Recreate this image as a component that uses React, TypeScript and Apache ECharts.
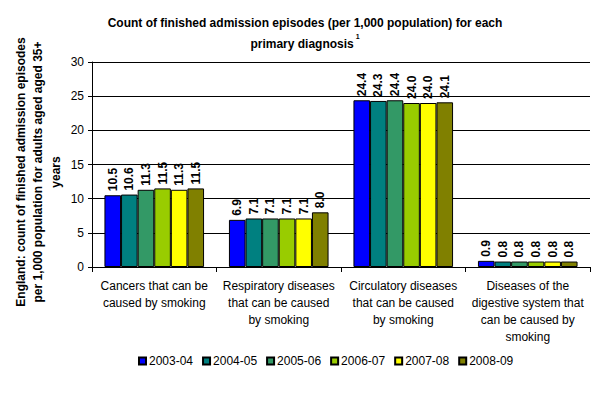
import React, { useEffect, useRef } from "react";
import * as echarts from "echarts";

const categories = [
  "Cancers that can be\ncaused by smoking",
  "Respiratory diseases\nthat can be caused\nby smoking",
  "Circulatory diseases\nthat can be caused\nby smoking",
  "Diseases of the\ndigestive system that\ncan be caused by\nsmoking",
];
const seriesNames = ["2003-04", "2004-05", "2005-06", "2006-07", "2007-08", "2008-09"];
const v2003 = [10.5, 6.9, 24.4, 0.9];
const v2004 = [10.6, 7.1, 24.3, 0.8];
const v2005 = [11.3, 7.1, 24.4, 0.8];
const v2006 = [11.5, 7.1, 24.0, 0.8];
const v2007 = [11.3, 7.1, 24.0, 0.8];
const v2008 = [11.5, 8.0, 24.1, 0.8];
const values = [v2003, v2004, v2005, v2006, v2007, v2008];
const colors = ["#0000FF", "#008080", "#339966", "#99CC00", "#FFFF00", "#808000"];
const yTicks = [0, 5, 10, 15, 20, 25, 30];
const yTitle = "England: count of finished admission episodes\nper 1,000 population for adults aged aged 35+\nyears";

export default function App() {
  const ref = useRef<HTMLDivElement>(null);
  useEffect(() => {
    if (!ref.current) return;
    const chart = echarts.init(ref.current, null, { renderer: "svg" });
    const font = "Liberation Sans, Arial, sans-serif";
    chart.setOption({
      animation: false,
      textStyle: { fontFamily: font },
      title: {
        text: "Count of finished admission episodes (per 1,000 population) for each\n{n|primary diagnosis}{s| 1}",
        left: 300,
        textAlign: "center",
        top: 7,
        textStyle: {
          fontSize: 12,
          fontWeight: "bold",
          color: "#000",
          lineHeight: 21,
          fontFamily: font,
          rich: {
            n: { fontSize: 12, fontWeight: "bold", fontFamily: font, lineHeight: 21 },
            s: { fontSize: 7, fontWeight: "bold", verticalAlign: "top", fontFamily: font, lineHeight: 14, padding: [0, 0, 6, 0] },
          },
        },
      },
      graphic: [
        {
          type: "text",
          x: 38,
          y: 172,
          rotation: Math.PI / 2,
          style: {
            text: yTitle,
            font: `bold 12px ${font}`,
            fill: "#000",
            align: "center",
            verticalAlign: "middle",
            lineHeight: 17.5,
          },
        },
      ],
      legend: {
        top: 350,
        left: 133,
        itemWidth: 7,
        itemHeight: 7,
        itemGap: 9,
        icon: "rect",
        textStyle: { fontSize: 12, color: "#000", fontFamily: font, padding: [0, 0, 0, -2] },
        data: seriesNames,
      },
      grid: { left: 92, right: 10, top: 62, bottom: 129, containLabel: false, outerBoundsMode: "none" },
      xAxis: {
        type: "category",
        data: categories,
        axisLine: { lineStyle: { color: "#000" } },
        axisTick: { show: true, length: 5, lineStyle: { color: "#000" }, alignWithLabel: false },
        axisLabel: { fontSize: 12, color: "#000", lineHeight: 17, interval: 0, margin: 10, fontFamily: font },
      },
      yAxis: {
        type: "value",
        min: 0,
        max: 30,
        interval: 5,
        axisLine: { show: true, lineStyle: { color: "#000" } },
        axisTick: { show: true, length: 4, lineStyle: { color: "#000" } },
        axisLabel: { fontSize: 12, color: "#000", margin: 8, fontFamily: font, formatter: (v: number) => (yTicks.includes(v) ? String(v) : "") },
        splitLine: { show: true, lineStyle: { color: "#000", width: 1 } },
      },
      series: values.map((d, i) => ({
        type: "bar",
        name: seriesNames[i],
        data: d,
        barGap: "0%",
        barCategoryGap: "20%",
        itemStyle: { color: colors[i], borderColor: "#000", borderWidth: 1 },
        label: {
          show: true,
          position: "top",
          rotate: 90,
          align: "left",
          verticalAlign: "middle",
          distance: 4,
          fontSize: 12,
          fontWeight: "bold",
          color: "#000",
          fontFamily: font,
          formatter: (p: any) => Number(p.value).toFixed(1),
        },
      })),
    });
    return () => chart.dispose();
  }, []);
  return <div ref={ref} style={{ width: 600, height: 396, position: "absolute", left: 0, top: 0, background: "#fff" }} />;
}
